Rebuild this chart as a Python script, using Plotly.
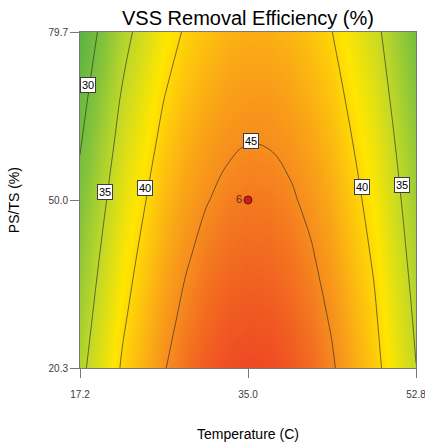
import plotly.graph_objects as go

# Temperature (C) grid (finer near the centre) and PS/TS (%) grid
temperature = [17.2, 21.65, 26.1, 28.33, 30.55, 32.78, 35.0, 37.23, 39.45, 41.68, 43.9, 48.35, 52.8]
ps_ts = [20.3, 30.2, 40.1, 50.0, 59.9, 69.8, 79.7]

# VSS removal efficiency (%), rows follow ps_ts
vss_removal = [
    [34.04, 40.31, 44.83, 46.43, 47.59, 48.31, 48.60, 48.44, 47.84, 46.81, 45.34, 41.07, 35.05],
    [33.06, 39.37, 43.93, 45.55, 46.74, 47.48, 47.78, 47.65, 47.07, 46.06, 44.61, 40.39, 34.41],
    [32.05, 38.40, 43.00, 44.64, 45.84, 46.60, 46.92, 46.80, 46.24, 45.25, 43.81, 39.63, 33.68],
    [30.95, 37.34, 41.98, 43.64, 44.86, 45.64, 45.98, 45.89, 45.35, 44.38, 42.96, 38.82, 32.92],
    [29.78, 36.22, 40.90, 42.58, 43.82, 44.62, 44.99, 44.91, 44.40, 43.44, 42.05, 37.95, 32.09],
    [28.59, 35.06, 39.77, 41.47, 42.73, 43.55, 43.93, 43.87, 43.38, 42.44, 41.06, 37.00, 31.17],
    [27.30, 33.81, 38.57, 40.29, 41.57, 42.41, 42.81, 42.78, 42.30, 41.38, 40.03, 36.01, 30.22],
]

# contour labels
label_temp = [18.05, 19.85, 24.1, 35.3, 47.1, 51.3]
label_ps = [70.3, 51.4, 52.1, 60.4, 52.3, 52.7]
label_text = ["30", "35", "40", "45", "40", "35"]

# design point
point_temp = [35.0]
point_ps = [50.0]
point_text = ["6"]

x_ticks = [17.2, 35.0, 52.8]
y_ticks = [20.3, 50.0, 79.7]

font = "Arial, Liberation Sans, sans-serif"

zmin, zmax = 27.3, 48.6
colorscale = [
    [0.0, "rgb(92,178,68)"],
    [0.174, "rgb(128,194,60)"],
    [0.362, "rgb(192,216,40)"],
    [0.549, "rgb(255,230,0)"],
    [0.690, "rgb(252,186,16)"],
    [0.831, "rgb(246,140,30)"],
    [1.0, "rgb(238,72,35)"],
]

fig = go.Figure()
fig.add_trace(go.Contour(
    x=temperature, y=ps_ts, z=vss_removal,
    zmin=zmin, zmax=zmax, colorscale=colorscale, showscale=False,
    contours=dict(coloring="heatmap", start=30, end=45, size=5, showlabels=False),
    line=dict(color="rgba(40,40,40,0.9)", width=0.7, smoothing=1.2),
    hoverinfo="skip",
))
fig.add_trace(go.Scatter(
    x=point_temp, y=point_ps, mode="markers+text", text=point_text,
    textposition="middle left",
    textfont=dict(family=font, size=11, color="rgb(110,30,30)"),
    marker=dict(size=8, color="rgb(200,30,30)", line=dict(color="rgb(110,20,20)", width=1)),
    showlegend=False,
))

for tx, py, lt in zip(label_temp, label_ps, label_text):
    fig.add_annotation(
        x=tx, y=py, text=lt, showarrow=False,
        font=dict(family=font, size=11, color="black"),
        bgcolor="white", bordercolor="rgb(60,60,60)", borderwidth=1, borderpad=1,
    )

# axis titles
fig.add_annotation(text="Temperature (C)", xref="paper", yref="paper", x=0.5, y=-0.195,
                   xanchor="center", yanchor="middle", showarrow=False,
                   font=dict(family=font, size=14, color="black"))
fig.add_annotation(text="PS/TS (%)", xref="paper", yref="paper", x=-0.196, y=0.5,
                   xanchor="center", yanchor="middle", showarrow=False, textangle=-90,
                   font=dict(family=font, size=14, color="black"))

axis_common = dict(
    showgrid=False, zeroline=False, showline=True, mirror=True,
    linecolor="rgb(120,120,120)", linewidth=1,
    ticks="outside", ticklen=9, tickcolor="rgb(120,120,120)",
    tickfont=dict(family=font, size=10, color="rgb(60,60,60)"),
    ticklabeloverflow="allow", automargin=False,
)

fig.update_layout(
    width=425, height=445,
    margin=dict(l=80, r=9, t=32, b=77),
    paper_bgcolor="white", plot_bgcolor="white",
    showlegend=False,
    title=dict(text="VSS Removal Efficiency (%)", x=0.5835, xanchor="center",
               y=0.96, yanchor="middle",
               font=dict(family=font, size=20, color="black")),
    xaxis=dict(range=[17.2, 52.8], tickvals=x_ticks, ticktext=[f"{v:.1f}" for v in x_ticks],
               ticklabelstandoff=8, **axis_common),
    yaxis=dict(range=[20.3, 79.7], tickvals=y_ticks, ticktext=[f"{v:.1f}" for v in y_ticks],
               **axis_common),
)

fig.write_html("out.html")
